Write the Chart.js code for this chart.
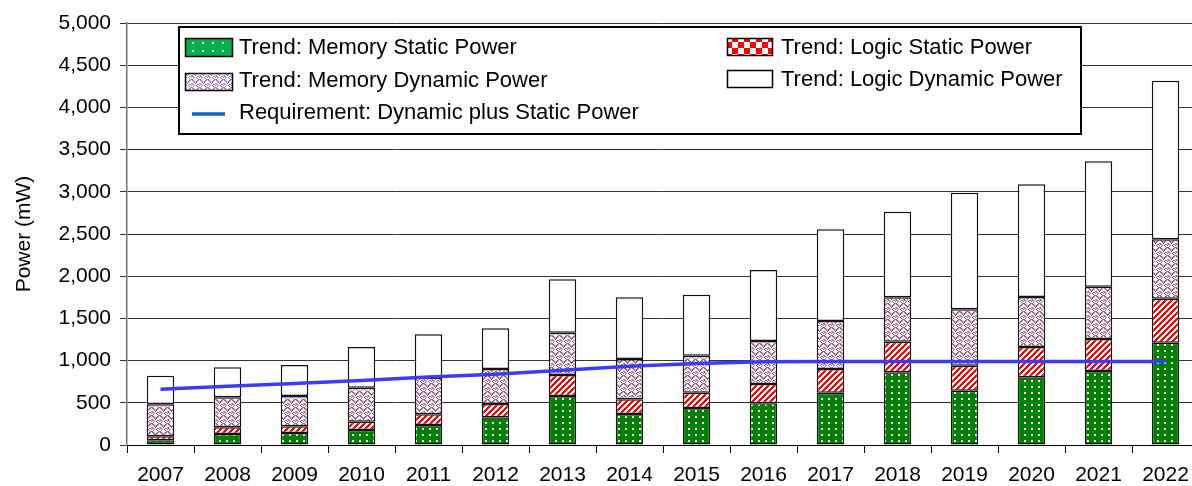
<!DOCTYPE html>
<html><head><meta charset="utf-8">
<script src="https://cdn.jsdelivr.net/npm/chart.js@4/dist/chart.umd.min.js"></script>
<style>
html,body{margin:0;padding:0;background:#fff;overflow:hidden;width:1192px;height:486px}
#wrap{width:1200px;height:486px;position:relative}
</style>
</head><body><div id="wrap"><canvas id="c" width="1200" height="486"></canvas></div>
<script>
const years = ['2007','2008','2009','2010','2011','2012','2013','2014','2015','2016','2017','2018','2019','2020','2021','2022'];
const memoryStatic  = [55,130,142,178,237,328,580,367,438,494,620,861,643,802,877,1212];
const logicStatic   = [50,80,80,98,126,158,249,174,182,229,280,363,297,359,379,521];
const memoryDynamic = [377,355,358,403,435,414,502,478,438,509,569,526,668,593,620,704];
const logicDynamic  = [339,355,368,481,513,482,632,731,723,841,1086,1015,1382,1335,1485,1880];
const requirement   = [660,695,730,765,805,838,885,932,965,985,990,990,990,990,990,990];
const yMin = 0, yMax = 5000, yStep = 500;

const FONT = "'Liberation Sans', Arial, sans-serif";
const canvas = document.getElementById('c');
const ctx = canvas.getContext('2d');

function tile(w, h, draw) {
  const c = document.createElement('canvas'); c.width = w; c.height = h;
  const g = c.getContext('2d'); draw(g, w, h);
  return ctx.createPattern(c, 'repeat');
}
function dots(bg, w, h) {
  return tile(w, h, (g) => { g.fillStyle = bg; g.fillRect(0,0,w,h); g.fillStyle = '#fff'; g.fillRect(2,2,2,2); });
}
function stripes(col, p) {
  return tile(p, p, (g) => {
    g.fillStyle = '#fff'; g.fillRect(0,0,p,p); g.fillStyle = col;
    for (let y=0;y<p;y++) for (let x=0;x<p;x++) if ((x+y)%p < p/2) g.fillRect(x,y,1,1);
  });
}
function checker(col, s) {
  return tile(2*s, 2*s, (g) => { g.fillStyle='#fff'; g.fillRect(0,0,2*s,2*s); g.fillStyle=col; g.fillRect(0,0,s,s); g.fillRect(s,s,s,s); });
}
const weaveMap = [
  "XX...XX.",
  ".XX.XX..",
  "..XXX...",
  "X..X...X",
  "XX...XX.",
  "..X.X..X",
  ".X...X..",
  "X.....XX"
];
function weave(col, bg) {
  return tile(8, 8, (g) => {
    g.fillStyle = bg; g.fillRect(0,0,8,8); g.fillStyle = col;
    weaveMap.forEach((row, y) => { for (let x=0;x<8;x++) if (row[x]==='X') g.fillRect(x,y,1,1); });
  });
}

const pGreen = dots('#008000', 7, 6);
const pRed = stripes('#ff0000', 6);
const pPurple = weave('#a05a88', '#ffffff');
const lGreen = dots('#00b050', 10, 8);
const lRed = checker('#ff0000', 6);
const lPurple = weave('#a878d0', '#ffffff');

const legendPlugin = {
  id: 'boxLegend',
  afterDraw(chart) {
    const c = chart.ctx; const ds = chart.data.datasets;
    c.save();
    c.fillStyle = '#fff'; c.fillRect(179, 27, 902, 107);
    c.lineWidth = 2; c.strokeStyle = '#000'; c.strokeRect(179, 27, 902, 107);
    c.font = '22px ' + FONT; c.fillStyle = '#000'; c.textBaseline = 'middle'; c.textAlign = 'left';
    const items = [
      {i:0, x:185, y:38, w:48, h:19, fill:lGreen, tx:239, ty:48},
      {i:2, x:185, y:73, w:48, h:18, fill:lPurple, tx:239, ty:81},
      {i:1, x:727, y:38, w:46, h:18, fill:lRed, tx:781, ty:48},
      {i:3, x:727, y:70, w:46, h:18, fill:'#fff', tx:781, ty:80},
    ];
    items.forEach(it => {
      c.fillStyle = it.fill; c.fillRect(it.x, it.y, it.w, it.h);
      c.lineWidth = 1.5; c.strokeStyle = '#000'; c.strokeRect(it.x+0.5, it.y+0.5, it.w-1, it.h-1);
      c.fillStyle = '#000'; c.fillText(ds[it.i].label, it.tx, it.ty);
    });
    c.strokeStyle = '#0a64d2'; c.lineWidth = 3.5;
    c.beginPath(); c.moveTo(192, 114); c.lineTo(225, 114); c.stroke();
    c.fillStyle = '#000'; c.fillText(ds[4].label, 239, 113);
    c.restore();
  }
};

const barCommon = { borderColor: '#111', borderWidth: 1.5, borderSkipped: false, barPercentage: 0.41, categoryPercentage: 1.0, stack: 'bars', order: 2 };

new Chart(ctx, {
  type: 'bar',
  data: {
    labels: years,
    datasets: [
      Object.assign({ label: 'Trend: Memory Static Power', data: memoryStatic, backgroundColor: pGreen }, barCommon),
      Object.assign({ label: 'Trend: Logic Static Power', data: logicStatic, backgroundColor: pRed }, barCommon),
      Object.assign({ label: 'Trend: Memory Dynamic Power', data: memoryDynamic, backgroundColor: pPurple }, barCommon),
      Object.assign({ label: 'Trend: Logic Dynamic Power', data: logicDynamic, backgroundColor: '#ffffff' }, barCommon),
      { type: 'line', label: 'Requirement: Dynamic plus Static Power', data: requirement, borderColor: '#3c3cf2', borderWidth: 3.5, pointRadius: 0, tension: 0, fill: false, stack: 'req', order: 0 }
    ]
  },
  options: {
    responsive: false, animation: false, devicePixelRatio: 1,
    layout: { padding: { top: 23, right: 1, bottom: 0, left: 0 } },
    plugins: { legend: { display: false }, tooltip: { enabled: false } },
    scales: {
      x: {
        stacked: true, offset: true,
        grid: { display: true, drawOnChartArea: false, drawTicks: true, tickLength: 8, color: '#000', offset: true },
        border: { display: true, color: '#000', width: 1 },
        ticks: { color: '#000', font: { family: FONT, size: 21 }, padding: 10, maxRotation: 0, autoSkip: false },
        afterFit(s) { s.height = 41; }
      },
      y: {
        stacked: true, min: yMin, max: yMax,
        grid: { color: '#333', lineWidth: 1, drawTicks: true, tickLength: 7 },
        border: { display: true, color: '#777', width: 1.5 },
        ticks: { stepSize: yStep, color: '#000', font: { family: FONT, size: 21 }, padding: 9,
                 callback: v => v.toLocaleString('en-US') },
        title: { display: true, text: 'Power (mW)', color: '#000', font: { family: FONT, size: 21 }, padding: { top: 12, bottom: 0 } },
        afterFit(s) { s.width = 127; }
      }
    }
  },
  plugins: [legendPlugin]
});
</script>
</body></html>
